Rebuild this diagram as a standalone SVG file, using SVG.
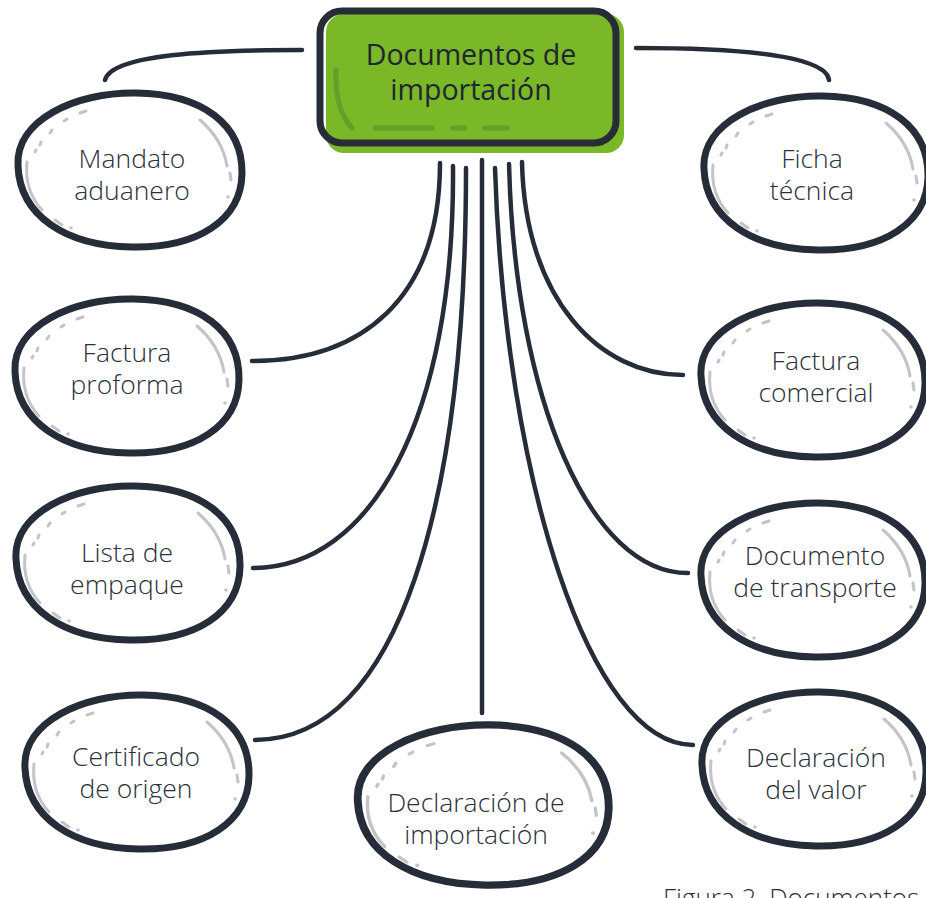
<svg xmlns="http://www.w3.org/2000/svg" width="926" height="898" viewBox="0 0 926 898">
<defs>
<style>
.ln{fill:none;stroke:#262d38;stroke-width:4.5;stroke-linecap:round}
.ol{fill:#fff;stroke:#262d38;stroke-width:7;stroke-linejoin:round}
.hl{fill:none;stroke:#c2c4c7;stroke-width:3;stroke-linecap:round}
.t{font-family:"Open Sans",Lato,"Liberation Sans",sans-serif;font-weight:300;font-size:26.5px;fill:#2b303a;text-anchor:middle}
.tc{font-family:"Open Sans",Lato,"Liberation Sans",sans-serif;font-weight:400;font-size:28.5px;fill:#1f2630;text-anchor:middle}
.gh{fill:none;stroke:#5f9a2c;stroke-width:5;stroke-linecap:round;opacity:0.85}
</style>
<g id="blob">
<path class="ol" d="M-110,-4 C-113,-50 -52,-78 8,-77 C74,-76 115,-46 114,4 C113,50 70,78 4,77 C-62,76 -108,46 -110,-4 Z"/>
<path class="hl" d="M-48,-57 L-42,-59 M-64,-49 L-61,-51 M-78,-37 L-76,-40 M-88,-25 L-87,-28 M-93,-18 L-92,-20"/>
<path class="hl" d="M-101,-8 C-103,12 -97,28 -86,40"/>
<path class="hl" d="M-73,50 L-66,55"/>
<circle cx="-57" cy="58" r="1.8" fill="#c2c4c7"/>
<path class="hl" d="M72,-50 C86,-38 96,-22 99,-4"/>
<path class="hl" d="M102,3 L103,10"/>
<circle cx="100" cy="27" r="1.8" fill="#c2c4c7"/>
</g>
</defs>

<g id="connectors">
<path class="ln" d="M302,50 C210,50 112,54 105,80"/>
<path class="ln" d="M636,48 C730,48 826,54 829,80"/>
<path class="ln" d="M440,163 C440,300 360,361 252,361"/>
<path class="ln" d="M453,166 C455,420 370,568 253,568"/>
<path class="ln" d="M466,168 C466,500 400,740 255,740"/>
<path class="ln" d="M482,160 L482,713"/>
<path class="ln" d="M495,168 C505,480 590,745 693,745"/>
<path class="ln" d="M509,164 C515,400 590,573 688,573"/>
<path class="ln" d="M522,162 C525,300 600,375 683,375"/>
</g>

<g id="n-center">
<rect x="326" y="14" width="298" height="139" rx="18" fill="#7ab828"/>
<path class="gh" d="M336,70 C335,95 340,115 352,128"/>
<path class="gh" d="M375,128 L432,128 M452,128 L465,128 M484,128 L507,128"/>
<rect x="320" y="11" width="296" height="132" rx="22" fill="none" stroke="#262d38" stroke-width="7"/>
<text class="tc" x="471" y="65">Documentos de<tspan x="471" dy="35">importación</tspan></text>
</g>

<g id="n-mandato">
<use href="#blob" transform="translate(128,170)"/>
<text class="t" x="132" y="168">Mandato<tspan x="132" dy="32">aduanero</tspan></text>
</g>

<g id="n-ficha">
<use href="#blob" transform="translate(814,173)"/>
<text class="t" x="812" y="168">Ficha<tspan x="812" dy="32">técnica</tspan></text>
</g>

<g id="n-proforma">
<use href="#blob" transform="translate(125,376)"/>
<text class="t" x="127" y="362">Factura<tspan x="127" dy="32">proforma</tspan></text>
</g>

<g id="n-comercial">
<use href="#blob" transform="translate(811,380)"/>
<text class="t" x="816" y="370">Factura<tspan x="816" dy="32">comercial</tspan></text>
</g>

<g id="n-lista">
<use href="#blob" transform="translate(126,563)"/>
<text class="t" x="127" y="562">Lista de<tspan x="127" dy="32">empaque</tspan></text>
</g>

<g id="n-transporte">
<use href="#blob" transform="translate(811,580)"/>
<text class="t" x="815" y="565">Documento<tspan x="815" dy="32">de transporte</tspan></text>
</g>

<g id="n-certificado">
<use href="#blob" transform="translate(135,772)"/>
<text class="t" x="136" y="766">Certificado<tspan x="136" dy="32">de origen</tspan></text>
</g>

<g id="n-declimport">
<use href="#blob" transform="translate(481,805) scale(1.12,1.04)"/>
<text class="t" x="476" y="812">Declaración de<tspan x="476" dy="32">importación</tspan></text>
</g>

<g id="n-valor">
<use href="#blob" transform="translate(812,769)"/>
<text class="t" x="816" y="767">Declaración<tspan x="816" dy="32">del valor</tspan></text>
</g>

<text x="663" y="907" style="font-family:'Open Sans',Lato,'Liberation Sans',sans-serif;font-weight:300;font-size:26px;fill:#2b303a">Figura 2. Documentos</text>
</svg>
